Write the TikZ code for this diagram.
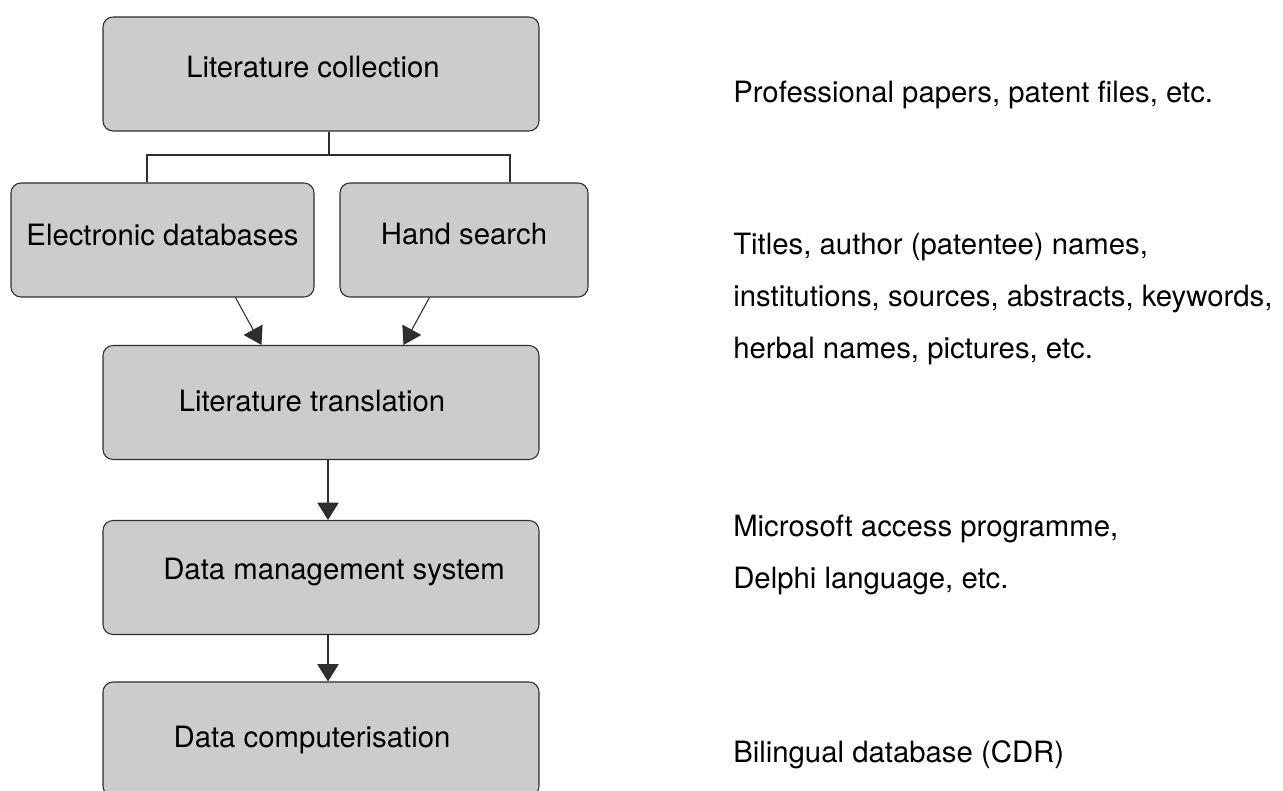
\documentclass[tikz,border=0pt]{standalone}
\usepackage{fontspec}
\setmainfont{TeX Gyre Heros}
\usetikzlibrary{arrows.meta,calc}
\definecolor{boxfill}{HTML}{CCCCCC}
\definecolor{edge}{HTML}{2E2E2E}
\begin{document}
\begin{tikzpicture}[x=0.75pt,y=-0.75pt,
  box/.style={draw=edge, fill=boxfill, line width=0.8pt, rounded corners=7.5pt,
    minimum height=85.5pt, inner sep=0pt, font=\fontsize{22}{26}\selectfont,
    text height=16pt, text depth=7pt},
  conn/.style={draw=edge, line width=0.8pt},
  arr/.style={conn, -{Triangle[width=16pt,length=13pt]}},
  note/.style={anchor=base west, inner sep=0pt, font=\fontsize{22}{26}\selectfont}]
\useasboundingbox (0,0) rectangle (1283,791);
\clip (0,0) rectangle (1283,791);
\fill[white] (0,0) rectangle (1283,791);

% boxes
\node[box, minimum width=327pt, text depth=10pt] (lc) at (321,74) {Literature collection\hspace*{12pt}};
\node[box, minimum width=227.25pt] (ed) at (162.5,240) {Electronic databases};
\node[box, minimum width=186pt, text depth=8.5pt] (hs) at (464,240) {Hand search};
\node[box, minimum width=327pt, text depth=1.75pt] (tl) at (321,402.5) {Literature translation\hspace*{13.5pt}};
\node[box, minimum width=327pt, text depth=12.25pt] (dms) at (321,577.5) {\hspace*{19.5pt}Data management system};
\node[box, minimum width=327pt, text depth=4pt] (dc) at (321,739) {Data computerisation\hspace*{13.5pt}};

% tree connector
\coordinate (j) at (329,155);
\coordinate (jl) at (147,155);
\coordinate (jr) at (510,155);
\draw[conn] (lc.south -| j) -- (j);
\draw[conn] (ed.north -| jl) -- (jl) -- (jr) -- (hs.north -| jr);

% arrows
\draw[arr] ($(ed.south west)+(225,0)$) -- ($(tl.north west)+(159,0)$);
\draw[arr] ($(hs.south west)+(90,0)$) -- ($(tl.north west)+(301,0)$);
\draw[arr] ($(tl.south)+(7,0)$) -- ($(dms.north)+(7,0)$);
\draw[arr] ($(dms.south)+(7,0)$) -- ($(dc.north)+(7,0)$);

% notes
\node[note] (n1) at (733,103) {Professional papers, patent files, etc.};
\node[note] (n2a) at (733,255) {Titles, author (patentee) names,};
\node[note] (n2b) at (733,307) {institutions, sources, abstracts, keywords,};
\node[note] (n2c) at (733,359) {herbal names, pictures, etc.};
\node[note] (n3a) at (733,537) {Microsoft access programme,};
\node[note] (n3b) at (733,589) {Delphi language, etc.};
\node[note] (n4) at (733,763) {Bilingual database (CDR)};
\end{tikzpicture}
\end{document}
